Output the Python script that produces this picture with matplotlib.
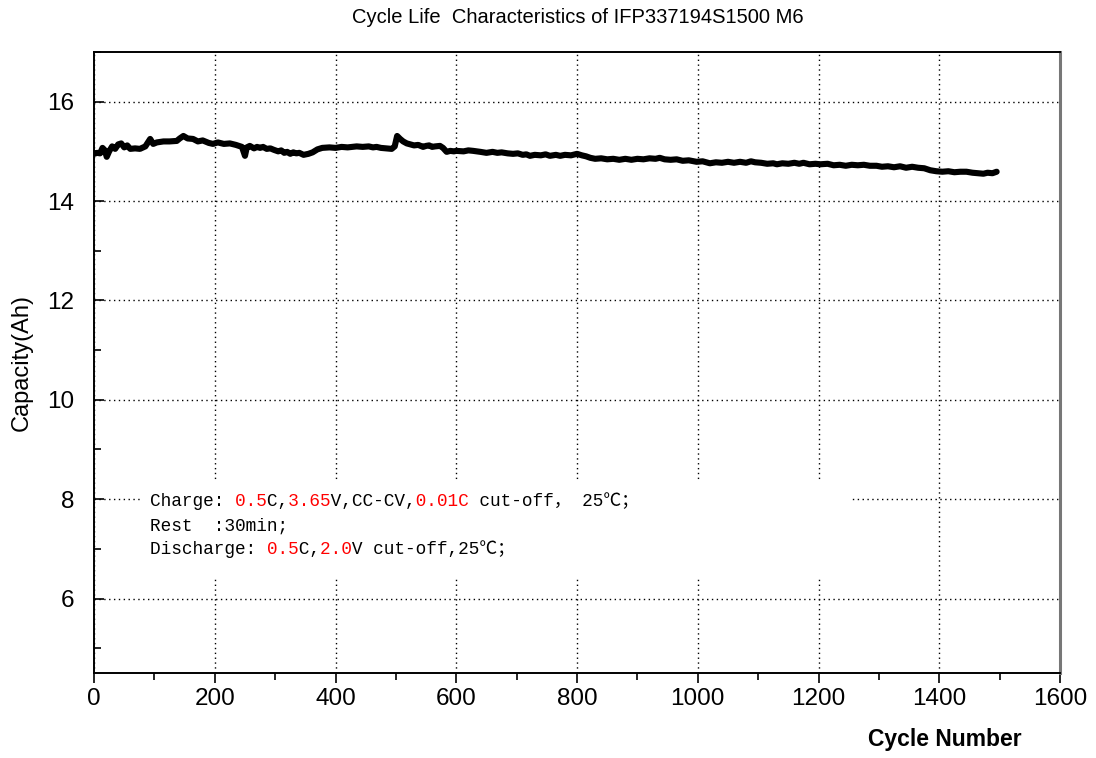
import numpy as np
import matplotlib.pyplot as plt
from matplotlib.ticker import MultipleLocator
from matplotlib.patches import Rectangle

# cycle number vs capacity
cycles = [0, 5, 10, 14, 18, 21, 25, 30, 35, 40, 45, 50, 55, 60, 68, 76, 85, 93, 98, 104,
          115, 125, 137, 142, 148, 155, 164, 172, 180, 190, 197, 205, 215, 225, 235, 245,
          250, 253,
          258, 265, 270, 275, 280, 286, 292, 298, 305, 310, 315, 320, 325, 330, 335, 340,
          347, 355, 362, 370, 378, 390, 400, 410, 420, 435, 445, 455, 462, 468, 475, 485,
          493, 498, 502, 507, 512, 518, 524, 530, 537, 545, 550, 555, 560, 565, 573, 578,
          584, 590, 596,
          600, 612, 620, 628, 640, 650, 660, 668, 675, 685, 694, 702, 710, 716, 722, 730,
          740, 748, 755, 765, 772, 780, 790, 800, 808, 815, 822, 830, 840, 850, 860, 870,
          880, 890, 900, 910, 920, 930, 937, 945, 955, 965, 975, 985, 998, 1008, 1020,
          1030, 1040, 1050, 1060, 1070, 1080, 1088, 1095, 1105, 1115, 1125, 1131, 1140,
          1150, 1160, 1168, 1175, 1185, 1195, 1203, 1215, 1225, 1235, 1245, 1255, 1265,
          1275, 1285, 1296, 1305, 1315, 1325, 1335, 1345, 1355, 1365, 1375, 1385, 1395,
          1405, 1415, 1425, 1435, 1445, 1455, 1465, 1473, 1480, 1488, 1495]
capacity = [14.95, 14.97, 14.96, 15.07, 15.02, 14.89, 15.00, 15.10, 15.05, 15.14, 15.16,
            15.08, 15.12, 15.05, 15.06, 15.05, 15.10, 15.25, 15.15, 15.18, 15.20, 15.20,
            15.21, 15.26, 15.31, 15.26, 15.25, 15.20, 15.22, 15.17, 15.15, 15.18, 15.15,
            15.16, 15.13, 15.09, 14.91, 15.08,
            15.11, 15.06, 15.09, 15.07, 15.09, 15.05, 15.06, 15.03, 15.00, 15.02, 14.97,
            14.99, 14.95, 14.98, 14.96, 14.97, 14.93, 14.95, 14.98, 15.04, 15.07, 15.08,
            15.07, 15.09, 15.08, 15.10, 15.09, 15.10, 15.08, 15.09, 15.07, 15.06, 15.05,
            15.10, 15.31, 15.25, 15.20, 15.16, 15.14, 15.12, 15.13, 15.09, 15.11, 15.12,
            15.09, 15.10, 15.11, 15.07, 14.99, 15.01, 15.00,
            15.01, 15.00, 15.02, 15.01, 14.99, 14.97, 14.99, 14.97, 14.98, 14.96, 14.95,
            14.96, 14.93, 14.94, 14.91, 14.93, 14.92, 14.94, 14.91, 14.93, 14.91, 14.93,
            14.92, 14.95, 14.92, 14.90, 14.87, 14.85, 14.86, 14.84, 14.85, 14.83, 14.85,
            14.83, 14.85, 14.84, 14.86, 14.85, 14.87, 14.84, 14.83, 14.84, 14.81, 14.82,
            14.79, 14.80, 14.76, 14.78, 14.77, 14.79, 14.77, 14.79, 14.77, 14.80, 14.78,
            14.77, 14.75, 14.76, 14.74, 14.76, 14.75, 14.77, 14.75, 14.77, 14.74, 14.75,
            14.74, 14.75, 14.72, 14.73, 14.71, 14.73, 14.72, 14.73, 14.71, 14.71, 14.69,
            14.70, 14.68, 14.70, 14.67, 14.69, 14.67, 14.66, 14.62, 14.60, 14.59, 14.60,
            14.58, 14.59, 14.59, 14.57, 14.56, 14.55, 14.57, 14.56, 14.59]

title = "Cycle Life  Characteristics of IFP337194S1500 M6"

# test conditions, (text, is_red) pieces per line
note_lines = [
    [("Charge: ", False), ("0.5", True), ("C,", False), ("3.65", True),
     ("V,CC-CV,", False), ("0.01C", True), (" cut-off， 25℃；", False)],
    [("Rest  :30min;", False)],
    [("Discharge: ", False), ("0.5", True), ("C,", False), ("2.0", True),
     ("V cut-off,25℃；", False)],
]

sans = ['Liberation Sans', 'DejaVu Sans']
mono = ['Liberation Mono', 'Noto Sans CJK SC', 'DejaVu Sans']

fig = plt.figure(figsize=(10.96, 7.58), dpi=100)
ax = fig.add_axes([0.0858, 0.1121, 0.8814, 0.8193])

ax.plot(cycles, capacity, color='black', lw=4.4, solid_capstyle='round',
        solid_joinstyle='round', zorder=3)

ax.set_xlim(0, 1600)
ax.set_ylim(4.5, 17)
ax.xaxis.set_major_locator(MultipleLocator(200))
ax.xaxis.set_minor_locator(MultipleLocator(100))
ax.yaxis.set_major_locator(MultipleLocator(2))
ax.yaxis.set_minor_locator(MultipleLocator(1))

ax.tick_params(axis='x', which='major', direction='out', length=7, width=1.2,
               labelsize=17.5, pad=4)
ax.tick_params(axis='x', which='minor', direction='out', length=5, width=1.2)
ax.tick_params(axis='y', which='major', direction='in', length=7, width=1.2,
               labelsize=17.5, pad=14)
ax.tick_params(axis='y', which='minor', direction='in', length=5, width=1.2)
for lab in ax.get_xticklabels() + ax.get_yticklabels():
    lab.set_family(sans)

ax.set_axisbelow(True)
ax.grid(True, which='major', color='black', linestyle=(0, (1, 2.5)), lw=1)

for s in ['left', 'bottom', 'top']:
    ax.spines[s].set_linewidth(1.4)
    ax.spines[s].set_color('black')
ax.spines['right'].set_color('#777777')
ax.spines['right'].set_linewidth(2.2)

# white patch behind the test-condition note
ax.add_patch(Rectangle((81, 6.4), 1174, 1.96, facecolor='white', edgecolor='none',
                       zorder=1))

y0 = 7.86
for i, line in enumerate(note_lines):
    black = ''.join(t if not r else ' ' * len(t) for t, r in line)
    red = ''.join(t if r else ' ' * len(t) for t, r in line)
    yy = y0 - i * 0.485
    ax.text(93, yy, black, color='black', family=mono, fontsize=12.8,
            va='baseline', ha='left', zorder=4)
    if red.strip():
        ax.text(93, yy, red, color='#ff0000', family=mono, fontsize=12.8,
                va='baseline', ha='left', zorder=4)

fig.text(0.527, 0.977, title, ha='center', va='center', fontsize=14.5, family=sans)
fig.text(0.862, 0.024, "Cycle Number", ha='center', va='center', fontsize=16.5,
         fontweight='bold', family=sans)
fig.text(0.02, 0.522, "Capacity(Ah)", ha='center', va='center', rotation=90,
         fontsize=17, family=sans)

fig.savefig('out.png', dpi=100)
